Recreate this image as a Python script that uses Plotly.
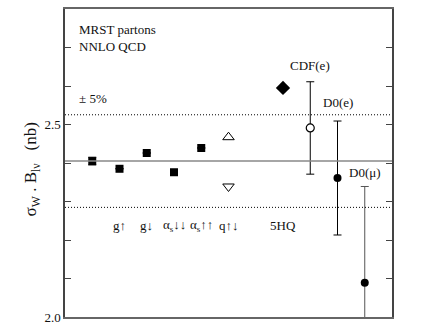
import plotly.graph_objects as go

# theory points (MRST partons, NNLO QCD)
theory_x = [1, 2, 3, 4, 5]
theory_y = [2.405, 2.385, 2.426, 2.376, 2.439]
theory_err = [0.01, 0, 0, 0, 0]
q_up_x, q_up_y = [6], [2.467]
q_down_x, q_down_y = [6], [2.339]
hq_x, hq_y = [8], [2.595]

# measurements
cdf_x, cdf_y, cdf_err = [9], [2.491], [0.12]
d0e_x, d0e_y, d0e_err = [10], [2.361], [0.148]
d0mu_x, d0mu_y, d0mu_err = [11], [2.089], [0.25]

central = 2.405
band = 0.05

cat_x = [2, 3, 4, 5, 6, 8]
cat_labels = ["g↑", "g↓", "α<sub>s</sub>↓↓", "α<sub>s</sub>↑↑", "q↑↓", "5HQ"]

SERIF = "Liberation Serif"


def tfont(size=13):
    return dict(family=SERIF, size=size, color="#111")


fig = go.Figure()

fig.add_trace(go.Scatter(x=theory_x, y=theory_y, mode="markers",
                         marker=dict(symbol="square", size=8, color="black"),
                         error_y=dict(type="data", array=theory_err, color="black", width=4, thickness=1)))
fig.add_trace(go.Scatter(x=q_up_x, y=q_up_y, mode="markers",
                         marker=dict(symbol="triangle-up-open", size=10, color="black", line=dict(width=1))))
fig.add_trace(go.Scatter(x=q_down_x, y=q_down_y, mode="markers",
                         marker=dict(symbol="triangle-down-open", size=10, color="black", line=dict(width=1))))
fig.add_trace(go.Scatter(x=hq_x, y=hq_y, mode="markers",
                         marker=dict(symbol="diamond", size=11, color="black")))
fig.add_trace(go.Scatter(x=cdf_x, y=cdf_y, mode="markers",
                         marker=dict(symbol="circle", size=8, color="white", line=dict(color="black", width=1.2)),
                         error_y=dict(type="data", array=cdf_err, color="black", width=4, thickness=1)))
fig.add_trace(go.Scatter(x=d0e_x, y=d0e_y, mode="markers",
                         marker=dict(symbol="circle", size=8, color="black"),
                         error_y=dict(type="data", array=d0e_err, color="black", width=4, thickness=1)))
fig.add_trace(go.Scatter(x=d0mu_x, y=d0mu_y, mode="markers",
                         marker=dict(symbol="circle", size=8, color="black"),
                         error_y=dict(type="data", array=d0mu_err, color="#555", width=4, thickness=1)))

# central value and +-5% lines
fig.add_hline(y=central, line=dict(color="#888", width=1.5))
fig.add_hline(y=central * (1 + band), line=dict(color="black", width=1, dash="1px,2px"))
fig.add_hline(y=central * (1 - band), line=dict(color="black", width=1, dash="1px,2px"))

# labels
for xv, lab in zip(cat_x, cat_labels):
    fig.add_annotation(x=xv, y=2.238, text=lab, showarrow=False, font=tfont())

fig.add_annotation(x=0.45, y=2.746, text="MRST partons", showarrow=False, font=tfont(), xanchor="left")
fig.add_annotation(x=0.45, y=2.702, text="NNLO QCD", showarrow=False, font=tfont(), xanchor="left")
fig.add_annotation(x=0.45, y=2.567, text="± 5%", showarrow=False, font=tfont(), xanchor="left")
fig.add_annotation(x=9, y=2.653, text="CDF(e)", showarrow=False, font=tfont())
fig.add_annotation(x=10, y=2.557, text="D0(e)", showarrow=False, font=tfont())
fig.add_annotation(x=11, y=2.376, text="D0(μ)", showarrow=False, font=tfont())

# y-axis title, placed by hand to sit close to the tick labels
fig.add_annotation(xref="paper", yref="paper", x=-0.1, y=0.48, textangle=-90,
                   xanchor="center", yanchor="middle",
                   text="σ<sub>W</sub> . B<sub>lν</sub>   (nb)", showarrow=False, font=tfont(17))

fig.update_layout(
    width=436, height=335,
    margin=dict(l=65, r=44, t=7, b=18),
    plot_bgcolor="white", paper_bgcolor="white",
    showlegend=False,
    font=tfont(),
    xaxis=dict(range=[0, 12], showgrid=False, zeroline=False, showticklabels=False,
               showline=True, linecolor="#666", linewidth=1.5, mirror=True, ticks=""),
    yaxis=dict(range=[2.0, 2.8], showgrid=False, zeroline=False,
               tickvals=[2.0, 2.1, 2.2, 2.3, 2.4, 2.5, 2.6, 2.7, 2.8],
               ticktext=["2.0", "", "", "", "", "2.5", "", "", ""],
               tickfont=tfont(13),
               ticks="inside", ticklen=6, tickcolor="#444",
               showline=True, linecolor="#444", linewidth=1.5, mirror="ticks"),
)

# drop the page's default body margin so the figure sits at the window origin
fig.write_html("out.html", config={"displayModeBar": False},
               post_script="document.body.style.margin='0';")
